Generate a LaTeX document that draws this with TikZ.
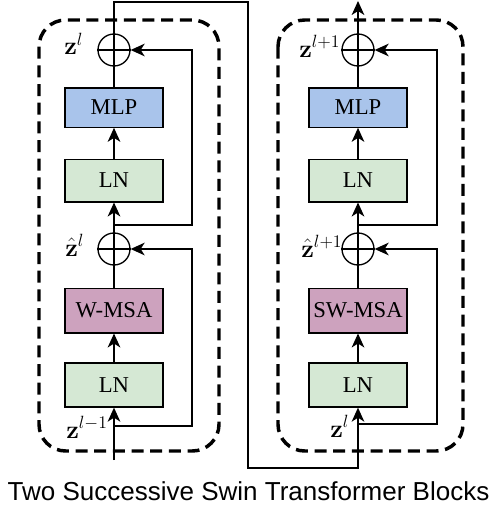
\RequirePackage{fix-cm}
\documentclass[tikz,border=0pt]{standalone}
\usepackage{amsmath, amssymb}
\usepackage[no-math]{fontspec}
\setmainfont{Liberation Serif}
\newfontfamily\titlefont{Liberation Sans}
\usetikzlibrary{arrows.meta}

\definecolor{mlpblue}{HTML}{A9C4EB}
\definecolor{lngreen}{HTML}{D5E8D4}
\definecolor{msapink}{HTML}{CDA2BE}

\tikzset{
  layer/.style={draw=black, line width=1pt, minimum width=73.5pt, inner sep=0pt,
    font=\fontsize{17}{20}\selectfont},
  addop/.style={draw=black, line width=1pt, circle, minimum size=24pt, inner sep=0pt},
  zlabel/.style={anchor=base west, inner sep=0pt, font=\fontsize{19}{21}\selectfont},
  flow/.style={line width=1pt, -{Stealth[length=10.5pt, width=9.5pt, inset=3pt]}},
  wire/.style={line width=1pt},
  blockframe/.style={line width=2.6pt, dash pattern=on 9pt off 5pt, rounded corners=20pt}
}

\begin{document}
\begin{tikzpicture}[x=0.75pt,y=0.75pt,yscale=-1,xscale=1]
    \useasboundingbox (0,0) rectangle (495,514);

    %Shape: Rounded Rect (left block)
    \draw [blockframe] (39,20) rectangle (219,451);
    %Shape: Rounded Rect (right block)
    \draw [blockframe] (278,20) rectangle (463,451);

    % Left block: W-MSA
    \node [layer, fill=lngreen, minimum height=33pt] (lnA) at (114,385) {LN};
    \node [layer, fill=msapink, minimum height=33.5pt] (wmsa) at (114,310.5) {W-MSA};
    \node [addop] (addA) at (114,249) {};
    \node [layer, fill=lngreen, minimum height=32pt] (lnB) at (114,180.5) {LN};
    \node [layer, fill=mlpblue, minimum height=29.5pt] (mlpA) at (114,107.5) {MLP};
    \node [addop] (addB) at (114,50) {};

    % Right block: SW-MSA
    \node [layer, fill=lngreen, minimum height=33pt] (lnC) at (358,385) {LN};
    \node [layer, fill=msapink, minimum height=33.5pt] (swmsa) at (358,310.5) {SW-MSA};
    \node [addop] (addC) at (358,249) {};
    \node [layer, fill=lngreen, minimum height=32pt] (lnD) at (358,180.5) {LN};
    \node [layer, fill=mlpblue, minimum height=29.5pt] (mlpB) at (358,107.5) {MLP};
    \node [addop] (addD) at (358,50) {};

    % crosses in the adders
    \foreach \a in {addA,addB,addC,addD}{
      \draw [wire] (\a.west) -- (\a.east);
      \draw [wire] (\a.north) -- (\a.south);
    }

    % Points of the wires
    \coordinate (inA) at (114,460);
    \coordinate (brA) at (114,426);
    \coordinate (skA) at (192,426);
    \coordinate (brB) at (114,225);
    \coordinate (skB) at (192,225);
    \coordinate (upT) at (248,2);
    \coordinate (dnB) at (358,468);
    \coordinate (brC) at (358,424);
    \coordinate (skC) at (437,424);
    \coordinate (brD) at (358,225);
    \coordinate (skD) at (437,225);
    \coordinate (outD) at (358,1);

    %Straight Lines: left block
    \draw [flow] (inA) -- (lnA.south);
    \draw [flow] (lnA.north) -- (wmsa.south);
    \draw [wire] (wmsa.north) -- (addA.south);
    \draw [flow] (brA) -- (skA) |- (addA.east);
    \draw [flow] (addA.north) -- (lnB.south);
    \draw [flow] (lnB.north) -- (mlpA.south);
    \draw [wire] (mlpA.north) -- (addB.south);
    \draw [flow] (brB) -- (skB) |- (addB.east);

    %Straight Lines: link between the blocks
    \draw [flow] (addB.north) |- (upT) |- (dnB) -- (lnC.south);

    %Straight Lines: right block
    \draw [flow] (lnC.north) -- (swmsa.south);
    \draw [wire] (swmsa.north) -- (addC.south);
    \draw [flow] (brC) -- (skC) |- (addC.east);
    \draw [flow] (addC.north) -- (lnD.south);
    \draw [flow] (lnD.north) -- (mlpB.south);
    \draw [wire] (mlpB.north) -- (addD.south);
    \draw [flow] (brD) -- (skD) |- (addD.east);
    \draw [flow] (addD.north) -- (outD);

    % Text Node
    \node [zlabel] (zB) at (64,54.5) {$\mathbf{z}^{l}$};
    \node [zlabel] (zhA) at (65,256) {$\hat{\mathbf{z}}^{l}$};
    \node [zlabel] (zin) at (66,438) {$\mathbf{z}^{l-1}$};
    \node [zlabel] (zD) at (299,57) {$\mathbf{z}^{l+1}$};
    \node [zlabel] (zhC) at (301,257) {$\hat{\mathbf{z}}^{l+1}$};
    \node [zlabel] (zC) at (330,437) {$\mathbf{z}^{l}$};
    % Text Node
    \node [anchor=base, inner sep=0pt, font=\titlefont\fontsize{19.5}{22}\selectfont] (title) at (248.5,500.7) {Two Successive Swin Transformer Blocks};
\end{tikzpicture}
\end{document}
